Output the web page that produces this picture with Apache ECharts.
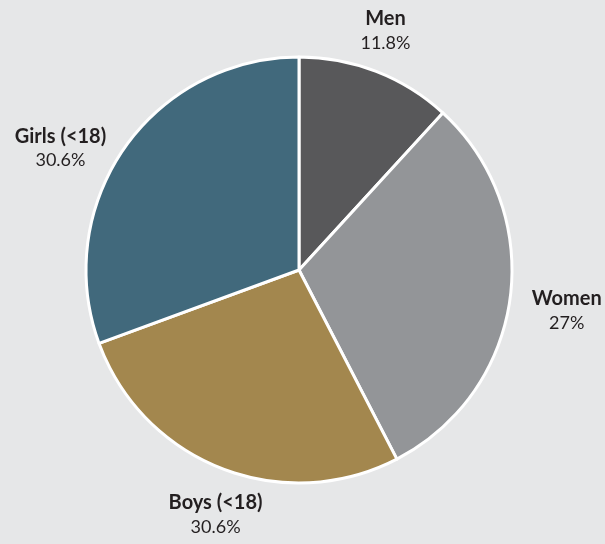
<!DOCTYPE html>
<html>
<head>
<meta charset="utf-8">
<script src="https://cdn.jsdelivr.net/npm/echarts@6/dist/echarts.min.js"></script>
<style>
  html, body { margin: 0; padding: 0; background: #e6e7e8; }
  #chart { width: 605px; height: 544px; }
</style>
</head>
<body>
<div id="chart"></div>
<script>
// 分类与数值（扇区大小按图中角度读取）
const categories = ['Men', 'Women', 'Boys (<18)', 'Girls (<18)']
const sliceValues = [11.8, 30.6, 27, 30.6]
// 图中标注的百分比文字
const shownPercent = ['11.8%', '27%', '30.6%', '30.6%']
const colors = ['#58585a', '#939598', '#a3874e', '#41697c']
// 标签微调（像素）
const labelNudge = [[-7, -2], [2, 7], [18, 7], [-10, 24]]

const chart = echarts.init(document.getElementById('chart'))
const seriesData = categories.map((name, i) => ({
  name: name,
  value: sliceValues[i],
  itemStyle: { color: colors[i] }
}))

chart.setOption({
  backgroundColor: '#e6e7e8',
  animation: false,
  series: [{
    type: 'pie',
    center: [299, 270],
    radius: 213,
    startAngle: 90,
    clockwise: true,
    itemStyle: { borderColor: '#ffffff', borderWidth: 3 },
    label: {
      show: true,
      position: 'outside',
      overflow: 'none',
      formatter: p => '{n|' + p.name + '}\n{p|' + shownPercent[p.dataIndex] + '}',
      rich: {
        n: { fontFamily: 'Lato', fontWeight: 'bold', fontSize: 20, color: '#231f20', lineHeight: 25, align: 'center' },
        p: { fontFamily: 'Lato', fontSize: 18, color: '#231f20', lineHeight: 24, align: 'center' }
      }
    },
    labelLine: { show: false, length: 20, length2: 0 },
    labelLayout: function (params) {
      const pts = params.labelLinePoints
      if (!pts) return {}
      const dx = pts[1][0] - pts[0][0]
      const dy = pts[1][1] - pts[0][1]
      const len = Math.sqrt(dx * dx + dy * dy) || 1
      const ux = dx / len, uy = dy / len
      const w = params.labelRect.width, h = params.labelRect.height
      const nudge = labelNudge[params.dataIndex]
      return {
        x: pts[1][0] + ux * w / 2 + nudge[0],
        y: pts[1][1] + uy * h / 2 + nudge[1],
        align: 'center',
        verticalAlign: 'middle'
      }
    },
    data: seriesData
  }]
})
</script>
</body>
</html>
